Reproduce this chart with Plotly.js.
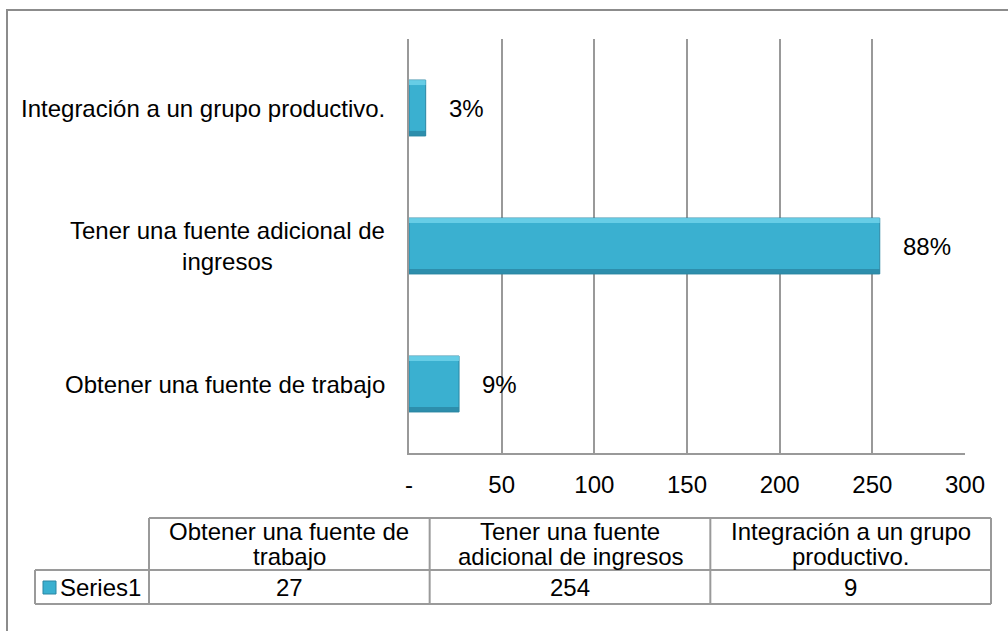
<!DOCTYPE html>
<html>
<head>
<meta charset="utf-8">
<script src="https://cdn.plot.ly/plotly-3.0.1.min.js"></script>
<style>
html,body{margin:0;padding:0;background:#fff;}
#chart{width:1008px;height:631px;}
</style>
</head>
<body>
<div id="chart"></div>
<script>
// ---- data ----
const categories = ['Obtener una fuente de trabajo', 'Tener una fuente adicional de ingresos', 'Integración a un grupo productivo.'];
const axisLabels = ['Obtener una fuente de trabajo', 'Tener una fuente adicional de<br>ingresos', 'Integración a un grupo productivo.'];
const tableHeaders = ['Obtener una fuente de<br>trabajo', 'Tener una fuente<br>adicional de ingresos', 'Integración a un grupo<br>productivo.'];
const values = [27, 254, 9];
const seriesName = 'Series1';
const tickVals = [0, 50, 100, 150, 200, 250, 300];
const tickText = ['-', '50', '100', '150', '200', '250', '300'];

// ---- geometry / style ----
const W = 1008, H = 631;
const PL = 409, PR = 965, PT = 39, PB = 453;
const FONT = 'Liberation Sans, Arial, sans-serif';
const FS = 24;
const GRID = '#999999';
const BAR = '#3AB0D0';
const BAR_LIGHT = '#72D4EB';
const BAR_DARK = '#2A86A3';
const BAR_LINE = '#2A86A3';
const BARGAP = 0.595;

const px2x = px => (px - PL) / (PR - PL);
const py2y = py => (PB - py) / (PB - PT);

const total = values.reduce((a, b) => a + b, 0);
const pct = values.map(v => Math.round(v / total * 100) + '%');

const trace = {
  type: 'bar',
  orientation: 'h',
  y: categories,
  x: values,
  marker: {color: BAR, line: {color: BAR_LINE, width: 1}},
  hoverinfo: 'x+y',
  showlegend: false
};

const annotations = [];
const shapes = [];

// bevel highlights on bars (derived from the values)
const hw = (1 - BARGAP) / 2;
const bandPx = PB - PT;
const catPx = bandPx / categories.length;
const strip = 5 / catPx;
values.forEach((v, i) => {
  shapes.push({type: 'rect', xref: 'x', yref: 'y', layer: 'above',
    x0: 0, x1: v, y0: i + hw - strip, y1: i + hw,
    fillcolor: BAR_LIGHT, opacity: 0.8, line: {width: 0}});
  shapes.push({type: 'rect', xref: 'x', yref: 'y', layer: 'above',
    x0: 0, x1: v, y0: i - hw, y1: i - hw + strip,
    fillcolor: BAR_DARK, opacity: 0.8, line: {width: 0}});
});

// y-axis category labels (centre aligned multi-line) + percentage labels
categories.forEach((c, i) => {
  annotations.push({
    x: px2x(387), xref: 'paper', y: c, yref: 'y',
    xanchor: 'right', yanchor: 'middle', align: 'center',
    text: axisLabels[i], showarrow: false,
    font: {family: FONT, size: FS, color: '#000'}
  });
  annotations.push({
    x: values[i], xref: 'x', y: c, yref: 'y',
    xanchor: 'left', yanchor: 'middle', xshift: 21,
    text: pct[i], showarrow: false,
    font: {family: FONT, size: FS, color: '#000'}
  });
});

// outer frame (right/bottom edges lie outside the picture)
shapes.push({type: 'path', xref: 'paper', yref: 'paper',
  path: `M ${px2x(7)} ${py2y(640)} L ${px2x(7)} ${py2y(10)} L ${px2x(1015)} ${py2y(10)}`,
  line: {color: '#8c8c8c', width: 2}});

// data table
const tLeft = 35, tKey = 149, tRight = 991;
const tTop = 518, tMid = 570, tBot = 604;
const colW = (tRight - tKey) / categories.length;
const tl = {color: '#9a9a9a', width: 2};
const hline = (x0, x1, y) => shapes.push({type: 'line', xref: 'paper', yref: 'paper',
  x0: px2x(x0), x1: px2x(x1), y0: py2y(y), y1: py2y(y), line: tl});
const vline = (x, y0, y1) => shapes.push({type: 'line', xref: 'paper', yref: 'paper',
  x0: px2x(x), x1: px2x(x), y0: py2y(y0), y1: py2y(y1), line: tl});
hline(tKey, tRight, tTop);
hline(tLeft, tRight, tMid);
hline(tLeft, tRight, tBot);
vline(tLeft, tMid, tBot);
for (let k = 0; k <= categories.length; k++) vline(tKey + k * colW, tTop, tBot);

categories.forEach((c, i) => {
  const cx = tKey + (i + 0.5) * colW;
  const lines = tableHeaders[i].split('<br>');
  const lineH = 25;
  const y0 = (tTop + tMid) / 2 - (lines.length - 1) * lineH / 2;
  lines.forEach((ln, j) => annotations.push({
    x: px2x(cx), xref: 'paper', y: py2y(y0 + j * lineH), yref: 'paper',
    xanchor: 'center', yanchor: 'middle', text: ln, showarrow: false,
    font: {family: FONT, size: FS, color: '#000'}
  }));
  annotations.push({
    x: px2x(cx), xref: 'paper', y: py2y((tMid + tBot) / 2), yref: 'paper',
    xanchor: 'center', yanchor: 'middle', text: String(values[i]), showarrow: false,
    font: {family: FONT, size: FS, color: '#000'}
  });
});

// legend key + series name
shapes.push({type: 'rect', xref: 'paper', yref: 'paper',
  x0: px2x(43), x1: px2x(56), y0: py2y(594), y1: py2y(581),
  fillcolor: BAR, line: {color: BAR_LINE, width: 1}});
annotations.push({
  x: px2x(58), xref: 'paper', y: py2y((tMid + tBot) / 2), yref: 'paper',
  xanchor: 'left', yanchor: 'middle', text: seriesName, showarrow: false,
  font: {family: FONT, size: FS, color: '#000'}
});

const layout = {
  width: W, height: H,
  margin: {l: PL, r: W - PR, t: PT, b: H - PB, pad: 0},
  paper_bgcolor: '#fff', plot_bgcolor: '#fff',
  bargap: BARGAP,
  showlegend: false,
  font: {family: FONT, size: FS, color: '#000'},
  xaxis: {
    range: [0, 300], tickvals: tickVals, ticktext: tickText,
    showgrid: true, gridcolor: GRID, gridwidth: 2,
    showline: true, linecolor: GRID, linewidth: 2,
    zeroline: false, ticks: '', ticklabelstandoff: 9,
    tickfont: {family: FONT, size: FS, color: '#000'}, fixedrange: true
  },
  yaxis: {
    type: 'category', categoryorder: 'array', categoryarray: categories,
    range: [-0.5, 2.5],
    showticklabels: false, showgrid: false,
    showline: true, linecolor: GRID, linewidth: 2,
    zeroline: false, ticks: '', fixedrange: true
  },
  annotations: annotations,
  shapes: shapes
};

Plotly.newPlot('chart', [trace], layout, {displayModeBar: false, staticPlot: true});
</script>
</body>
</html>
